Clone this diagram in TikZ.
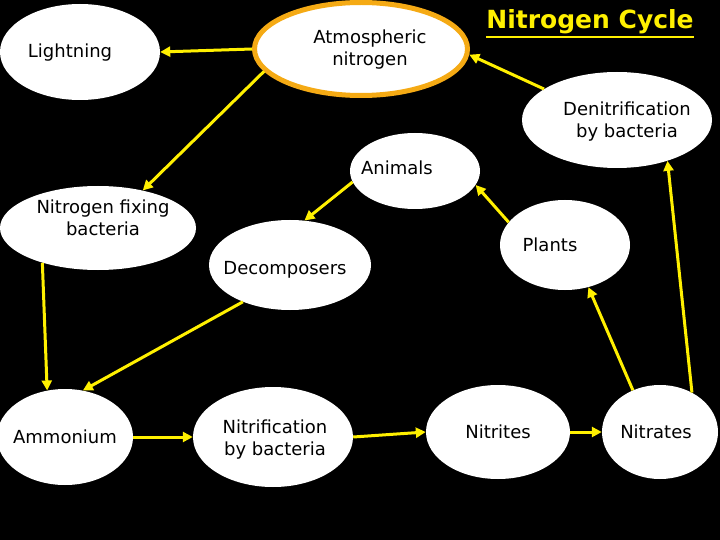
\documentclass[tikz,border=0pt]{standalone}
\usepackage{fontspec}
\setmainfont{DejaVu Sans}
\usetikzlibrary{shapes.geometric,arrows.meta}
\definecolor{arr}{RGB}{255,240,0}
\definecolor{ring}{RGB}{245,170,20}
\begin{document}
\begin{tikzpicture}[x=1pt,y=-1pt,
  blob/.style={ellipse,fill=white,inner sep=0pt},
  lbl/.style={align=center,font=\fontsize{18}{22}\selectfont,text=black},
  arrw/.style={draw=arr,line width=3pt,-{Triangle[length=10pt,width=10pt]}}]
\fill[black] (0,0) rectangle (720,540);
\useasboundingbox (0,0) rectangle (720,540);
\node[blob,minimum width=160pt,minimum height=96pt] (light) at (80,52) {};
\node[blob,draw=ring,line width=5pt,minimum width=213pt,minimum height=93pt] (atmo) at (361,49) {};
\node[blob,minimum width=190pt,minimum height=96pt] (den) at (617,120) {};
\node[blob,minimum width=130pt,minimum height=76pt] (anim) at (415,171) {};
\node[blob,minimum width=196pt,minimum height=84pt] (fix) at (98,228) {};
\node[blob,minimum width=162pt,minimum height=90pt] (dec) at (290,265) {};
\node[blob,minimum width=130pt,minimum height=90pt] (plant) at (565,245) {};
\node[blob,minimum width=136pt,minimum height=96pt] (amm) at (65,437) {};
\node[blob,minimum width=160pt,minimum height=100pt] (nitf) at (273,437) {};
\node[blob,minimum width=144pt,minimum height=94pt] (nits) at (498,432) {};
\node[blob,minimum width=116pt,minimum height=94pt] (nats) at (660,432) {};

\node[lbl] (tlight) at (70,53) {Lightning};
\node[lbl] (tatmo) at (370,50) {Atmospheric\\nitrogen};
\node[lbl] (tden) at (627,122) {Denitrification\\by bacteria};
\node[lbl] (tanim) at (397,168) {Animals};
\node[lbl] (tfix) at (103,218) {Nitrogen fixing\\bacteria};
\node[lbl] (tdec) at (285,270) {Decomposers};
\node[lbl] (tplant) at (550,245) {Plants};
\node[lbl] (tamm) at (65,437) {Ammonium};
\node[lbl] (tnitf) at (275,440) {Nitrification\\by bacteria};
\node[lbl] (tnits) at (498,432) {Nitrites};
\node[lbl] (tnats) at (656,432) {Nitrates};

\node[text=arr,font=\fontsize{25}{28}\selectfont\bfseries,inner sep=0pt] (title) at (590,22) {Nitrogen Cycle};
\draw[arr,line width=2pt] (title.south west)++(0,3) coordinate (u1) -- (title.south east |- u1);

\draw[arrw] (atmo.180) -- (light.0);
\draw[arrw] (atmo.193) -- (fix.40);
\draw[arrw] (den.157) -- (atmo.-3);
\draw[arrw] (anim.190) -- (dec.72);
\draw[arrw] (plant.158) -- (anim.-13);
\draw[arrw] (fix.212) -- (amm.111);
\draw[arrw] (dec.218) -- (amm.69);
\draw[arrw] (amm.east) -- (nitf.west);
\draw[arrw] (nitf.east) -- (nits.west);
\draw[arrw] (nits.east) -- (nats.west);
\draw[arrw] (nats.123) -- (plant.-61);
\draw[arrw] (nats.51) -- (den.-39);
\end{tikzpicture}
\end{document}
